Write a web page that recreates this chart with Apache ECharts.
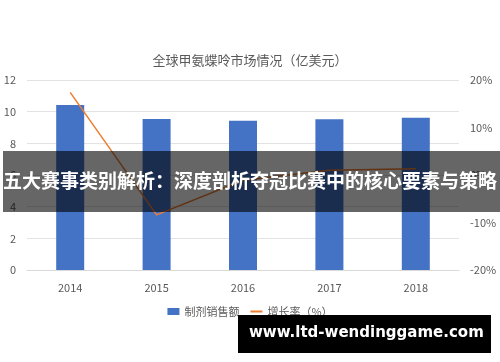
<!DOCTYPE html>
<html><head><meta charset="utf-8">
<script src="https://cdn.jsdelivr.net/npm/echarts@6/dist/echarts.min.js"></script>
<style>html,body{margin:0;padding:0;background:#fff}#c{width:500px;height:362px}</style>
</head><body><div id="c"></div>
<script>
const years = ['2014','2015','2016','2017','2018'];
const sales = [10.42, 9.54, 9.43, 9.52, 9.62];
const growth = [17.4, -8.4, -1.1, 1.0, 1.3];
const titleText = '全球甲氨蝶呤市场情况（亿美元）';
const bannerText = '五大赛事类别解析：深度剖析夺冠比赛中的核心要素与策略';
const siteText = 'www.ltd-wendinggame.com';

const font = '"Noto Sans CJK SC", "Noto Sans", sans-serif';
const chart = echarts.init(document.getElementById('c'));
chart.setOption({
  animation: false,
  textStyle: {fontFamily: font},
  title: {text: titleText, left: 'center', top: 49,
    textStyle: {fontSize: 13, fontWeight: 'normal', color: '#595959', fontFamily: font}},
  grid: {left: 27, right: 41, top: 80, bottom: 92, containLabel: false},
  legend: {bottom: 40, left: 'center', itemWidth: 12, itemHeight: 7, itemGap: 10,
    textStyle: {fontSize: 11, color: '#595959', fontFamily: font},
    data: [{name: '制剂销售额', icon: 'rect'}, {name: '增长率（%）', itemStyle: {opacity: 0}}]},
  xAxis: {type: 'category', data: years,
    axisLine: {lineStyle: {color: '#D9D9D9'}}, axisTick: {show: false},
    axisLabel: {fontSize: 11, color: '#595959', margin: 12}},
  yAxis: [
    {type: 'value', min: 0, max: 12, interval: 2,
     axisLine: {show: false}, axisTick: {show: false},
     splitLine: {lineStyle: {color: '#E3E3E3'}},
     axisLabel: {fontSize: 11, color: '#595959', margin: 11}},
    {type: 'value', min: -20, max: 20, interval: 10,
     axisLine: {show: false}, axisTick: {show: false}, splitLine: {show: false},
     axisLabel: {fontSize: 11, color: '#595959', margin: 11, formatter: '{value}%'}}
  ],
  series: [
    {name: '制剂销售额', type: 'bar', data: sales, barWidth: 28,
     itemStyle: {color: '#4472C4'}},
    {name: '增长率（%）', type: 'line', yAxisIndex: 1, data: growth,
     symbol: 'none', lineStyle: {color: '#ED7D31', width: 1.5}, itemStyle: {color: '#ED7D31'}}
  ],
  graphic: [
    {type: 'rect', left: 3, top: 151, z: 100, shape: {width: 497, height: 61},
     style: {fill: 'rgba(0,0,0,0.6)'}},
    {type: 'text', left: 'center', top: 171, z: 101,
     style: {text: bannerText, fill: '#fff', font: 'bold 19px ' + font}},
    {type: 'rect', left: 238, top: 315, z: 100, shape: {width: 253, height: 38},
     style: {fill: '#000'}},
    {type: 'text', left: 249, top: 326, z: 101,
     style: {text: siteText, fill: '#fff', font: 'bold 15px "DejaVu Sans", sans-serif'}}
  ]
});
</script></body></html>
